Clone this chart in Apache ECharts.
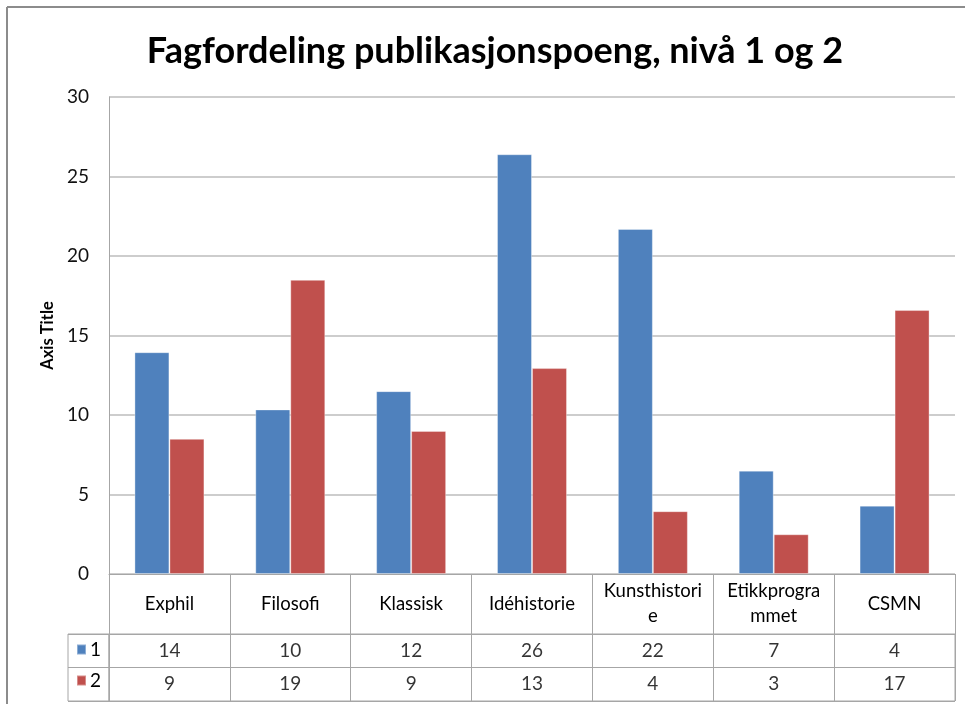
<!DOCTYPE html>
<html>
<head>
<meta charset="utf-8">
<script src="https://cdn.jsdelivr.net/npm/echarts@6/dist/echarts.min.js"></script>
<style>
html,body{margin:0;padding:0;background:#fff;overflow:hidden;}
#chart{width:965px;height:704px;}
</style>
</head>
<body>
<div id="chart"></div>
<script>
const title = 'Fagfordeling publikasjonspoeng, nivå 1 og 2';
const categories = ['Exphil', 'Filosofi', 'Klassisk', 'Idéhistorie', 'Kunsthistorie', 'Etikkprogrammet', 'CSMN'];
const categoryLabels = ['Exphil', 'Filosofi', 'Klassisk', 'Idéhistorie', 'Kunsthistori\ne', 'Etikkprogra\nmmet', 'CSMN'];
const seriesNames = ['1', '2'];
const level1 = [13.95, 10.35, 11.5, 26.4, 21.7, 6.5, 4.3];
const level2 = [8.5, 18.5, 9.0, 12.95, 3.95, 2.5, 16.6];
const yTicks = { min: 0, max: 30, interval: 5 };
const axisTitle = 'Axis Title';

const FONT = 'Lato';
const GRAY = '#a6a6a6';
const colors = ['#4F81BD', '#C0504D'];

const chart = echarts.init(document.getElementById('chart'), null, { renderer: 'canvas' });

const values = [level1, level2];
const tableData = [];
values.forEach((arr, r) => arr.forEach((v, i) => tableData.push([categories[i], seriesNames[r], v])));

const option = {
  animation: false,
  color: colors,
  textStyle: { fontFamily: FONT },
  title: {
    text: title,
    left: 490, top: 28, textAlign: 'center',
    textStyle: { fontFamily: FONT, fontSize: 36, fontWeight: 'bold', color: '#000' }
  },
  graphic: [
    { type: 'line', shape: { x1: 7, y1: 7, x2: 965, y2: 7 },
      style: { stroke: '#8c8c8c', lineWidth: 2 }, silent: true, z: 100 },
    { type: 'line', shape: { x1: 7, y1: 7, x2: 7, y2: 704 },
      style: { stroke: '#8c8c8c', lineWidth: 2 }, silent: true, z: 100 }
  ],
  legend: {
    data: seriesNames,
    orient: 'vertical', left: 76, top: 640, padding: 0,
    itemWidth: 9, itemHeight: 10, itemGap: 12, icon: 'rect',
    textStyle: { fontFamily: FONT, fontSize: 19, color: '#000', padding: [0, 0, 0, -1] },
    selectedMode: false
  },
  grid: [
    { left: 109, top: 97, width: 846, height: 477, containLabel: false },
    { left: 109, top: 634, width: 846, height: 67, show: true, borderColor: GRAY, borderWidth: 1 },
    { left: 68, top: 634, width: 41, height: 67, show: true, borderColor: GRAY, borderWidth: 1 }
  ],
  xAxis: [
    {
      type: 'category', data: categories, gridIndex: 0,
      axisLine: { show: true, lineStyle: { color: GRAY, width: 1 } },
      axisTick: { show: true, length: 60, interval: 0, lineStyle: { color: GRAY, width: 1 } },
      axisLabel: {
        interval: 0, margin: 30, verticalAlign: 'middle', lineHeight: 25,
        fontFamily: FONT, fontSize: 18.5, color: '#000',
        formatter: (v, i) => categoryLabels[i]
      }
    },
    {
      type: 'category', data: categories, gridIndex: 1,
      axisLine: { show: false }, axisTick: { show: false }, axisLabel: { show: false },
      splitLine: { show: true, interval: 0, lineStyle: { color: GRAY, width: 1 } }
    },
    { type: 'value', gridIndex: 2, show: false }
  ],
  yAxis: [
    {
      type: 'value', gridIndex: 0, min: yTicks.min, max: yTicks.max, interval: yTicks.interval,
      name: axisTitle, nameLocation: 'middle', nameGap: 51,
      nameTextStyle: { fontFamily: FONT, fontSize: 16.5, fontWeight: 'bold', color: '#000' },
      axisLine: { show: true, lineStyle: { color: GRAY, width: 1 } },
      axisTick: { show: false },
      splitLine: { show: true, lineStyle: { color: '#bdbdbd', width: 1.5 } },
      axisLabel: { margin: 20, fontFamily: FONT, fontSize: 19, color: '#111' }
    },
    {
      type: 'category', data: seriesNames, gridIndex: 1, inverse: true,
      axisLine: { show: false }, axisTick: { show: false }, axisLabel: { show: false },
      splitLine: { show: true, lineStyle: { color: GRAY, width: 1 } }
    },
    {
      type: 'category', data: seriesNames, gridIndex: 2, inverse: true,
      axisLine: { show: false }, axisTick: { show: false }, axisLabel: { show: false },
      splitLine: { show: true, lineStyle: { color: GRAY, width: 1 } }
    }
  ],
  series: [
    {
      name: seriesNames[0], type: 'bar', data: level1, xAxisIndex: 0, yAxisIndex: 0,
      barWidth: 35, barGap: '0%',
      itemStyle: { color: colors[0], borderColor: 'rgba(255,255,255,0.35)', borderWidth: 1 }
    },
    {
      name: seriesNames[1], type: 'bar', data: level2, xAxisIndex: 0, yAxisIndex: 0,
      barWidth: 35, barGap: '0%',
      itemStyle: { color: colors[1], borderColor: 'rgba(255,255,255,0.35)', borderWidth: 1 }
    },
    {
      name: 'table', type: 'scatter', xAxisIndex: 1, yAxisIndex: 1,
      data: tableData, symbolSize: 1, itemStyle: { color: 'rgba(0,0,0,0)' },
      label: {
        show: true, position: 'inside', fontFamily: FONT, fontSize: 19, color: '#000',
        formatter: p => String(Math.round(p.value[2]))
      },
      silent: true
    }
  ]
};
chart.setOption(option);
</script>
</body>
</html>
